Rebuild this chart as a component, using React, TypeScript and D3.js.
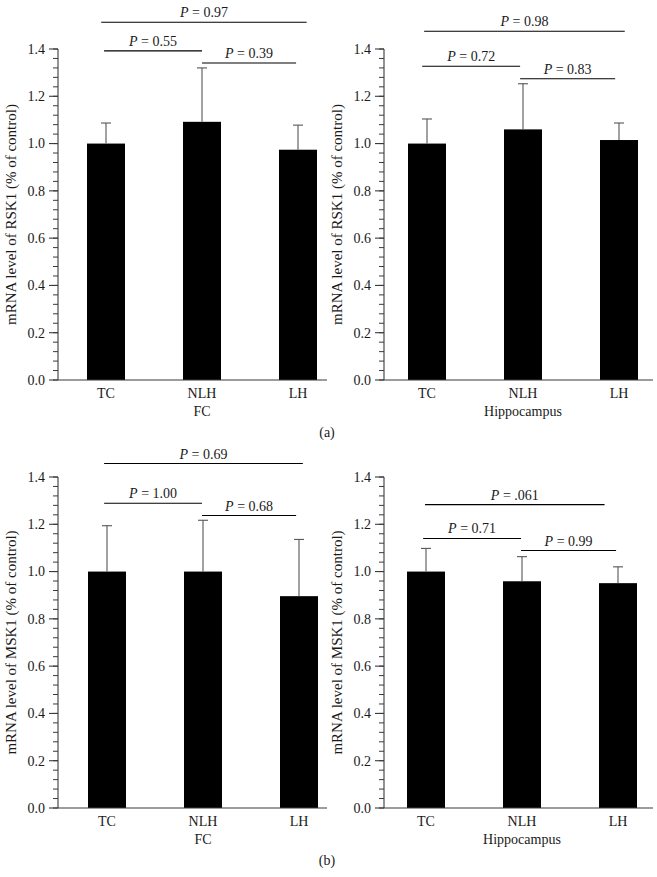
import * as d3 from 'd3';

const categories = ['TC', 'NLH', 'LH'];
const yTickValues = [0, 0.2, 0.4, 0.6, 0.8, 1.0, 1.2, 1.4];

// (a) RSK1
const rsk1FcMean = [1.0, 1.092, 0.974];
const rsk1FcSd = [0.087, 0.228, 0.104];
const rsk1HipMean = [1.0, 1.06, 1.015];
const rsk1HipSd = [0.104, 0.193, 0.072];

// (b) MSK1
const msk1FcMean = [1.0, 1.0, 0.896];
const msk1FcSd = [0.194, 0.217, 0.24];
const msk1HipMean = [1.0, 0.959, 0.951];
const msk1HipSd = [0.098, 0.104, 0.069];

// P value brackets: label, level (y units), span in category index units
const rsk1FcP = ['0.97', '0.55', '0.39'];
const rsk1FcPLevel = [1.513, 1.392, 1.341];
const rsk1FcPSpan = [[-0.05, 2.09], [-0.02, 1.0], [1.0, 1.98]];

const rsk1HipP = ['0.98', '0.72', '0.83'];
const rsk1HipPLevel = [1.475, 1.327, 1.274];
const rsk1HipPSpan = [[-0.03, 2.06], [-0.05, 0.97], [0.97, 1.96]];

const msk1FcP = ['0.69', '1.00', '0.68'];
const msk1FcPLevel = [1.457, 1.289, 1.237];
const msk1FcPSpan = [[-0.03, 2.04], [-0.03, 0.99], [0.99, 1.97]];

const msk1HipP = ['.061', '0.71', '0.99'];
const msk1HipPLevel = [1.283, 1.14, 1.089];
const msk1HipPSpan = [[-0.01, 1.86], [-0.03, 0.99], [0.99, 1.98]];

const FONT = "'Liberation Serif', 'DejaVu Serif', serif";

type PanelProps = {
  x0: number;
  firstCenter: number;
  yTop: number;
  yBottom: number;
  means: number[];
  sds: number[];
  pLabels: string[];
  pLevels: number[];
  pSpans: number[][];
  yLabel: string;
  group: string;
};

const Panel = ({ x0, firstCenter, yTop, yBottom, means, sds, pLabels, pLevels, pSpans, yLabel, group }: PanelProps) => {
  const step = 96;
  const barW = 38;
  const axisLen = 269;

  const y = d3.scaleLinear().domain([0, 1.4]).range([yBottom, yTop]);
  const xPt = d3.scalePoint<string>()
    .domain(categories)
    .range([x0 + firstCenter, x0 + firstCenter + 2 * step]);
  const xIdx = d3.scaleLinear().domain([0, 2]).range([x0 + firstCenter, x0 + firstCenter + 2 * step]);

  const minor = d3.range(0, 1.4 + 1e-9, 0.04);
  const axisColor = '#3a3a3a';

  return (
    <g style={{ fontFamily: FONT }} fill="#1a1a1a">
      {/* bars */}
      {categories.map((c, i) => (
        <rect key={c} x={(xPt(c) || 0) - barW / 2} y={y(means[i])}
          width={barW} height={y(0) - y(means[i])} fill="#000" />
      ))}
      {/* error bars */}
      {categories.map((c, i) => {
        const cx = xPt(c) || 0;
        return (
          <g key={'e' + c} stroke="#555" strokeWidth={1.1}>
            <line x1={cx} x2={cx} y1={y(means[i])} y2={y(means[i] + sds[i])} />
            <line x1={cx - 5} x2={cx + 5} y1={y(means[i] + sds[i])} y2={y(means[i] + sds[i])} />
          </g>
        );
      })}
      {/* y axis */}
      <line x1={x0} x2={x0} y1={y(0)} y2={y(1.4)} stroke={axisColor} strokeWidth={1.1} />
      {minor.map((v, i) => (
        <line key={'m' + i} x1={x0 - 5} x2={x0} y1={y(v)} y2={y(v)} stroke={axisColor} strokeWidth={1} />
      ))}
      {yTickValues.map(v => (
        <g key={'t' + v}>
          <line x1={x0 - 9} x2={x0} y1={y(v)} y2={y(v)} stroke={axisColor} strokeWidth={1.1} />
          <text x={x0 - 13} y={y(v)} dy="0.35em" textAnchor="end" fontSize={14}>{v.toFixed(1)}</text>
        </g>
      ))}
      {/* x axis */}
      <line x1={x0} x2={x0 + axisLen} y1={y(0)} y2={y(0)} stroke={axisColor} strokeWidth={1.1} />
      {categories.map(c => (
        <text key={'c' + c} x={xPt(c)} y={y(0) + 18} textAnchor="middle" fontSize={14}>{c}</text>
      ))}
      <text x={xPt('NLH')} y={y(0) + 36} textAnchor="middle" fontSize={14}>{group}</text>
      {/* y label */}
      <text transform={`translate(${x0 - 42},${(y(0) + y(1.4)) / 2}) rotate(-90)`}
        textAnchor="middle" fontSize={15}>{yLabel}</text>
      {/* P brackets */}
      {pLabels.map((p, i) => {
        const xa = xIdx(pSpans[i][0]);
        const xb = xIdx(pSpans[i][1]);
        const ly = y(pLevels[i]);
        return (
          <g key={'p' + i}>
            <line x1={xa} x2={xb} y1={ly} y2={ly} stroke="#000" strokeWidth={1.1} />
            <text x={(xa + xb) / 2} y={ly - 5} textAnchor="middle" fontSize={14}>
              <tspan fontStyle="italic">P</tspan>{' = ' + p}
            </text>
          </g>
        );
      })}
    </g>
  );
};

export default function App() {
  return (
    <svg width={657} height={877} style={{ position: 'absolute', left: 0, top: 0, background: '#fff' }}>
      <rect width={657} height={877} fill="#fff" />
      <Panel x0={58} firstCenter={48} yTop={49} yBottom={380}
        means={rsk1FcMean} sds={rsk1FcSd} pLabels={rsk1FcP} pLevels={rsk1FcPLevel} pSpans={rsk1FcPSpan}
        yLabel="mRNA level of RSK1 (% of control)" group="FC" />
      <Panel x0={384} firstCenter={43} yTop={49} yBottom={380}
        means={rsk1HipMean} sds={rsk1HipSd} pLabels={rsk1HipP} pLevels={rsk1HipPLevel} pSpans={rsk1HipPSpan}
        yLabel="mRNA level of RSK1 (% of control)" group="Hippocampus" />
      <text x={327} y={437} textAnchor="middle" fontSize={14} style={{ fontFamily: FONT }} fill="#1a1a1a">(a)</text>

      <Panel x0={58} firstCenter={49} yTop={477} yBottom={808}
        means={msk1FcMean} sds={msk1FcSd} pLabels={msk1FcP} pLevels={msk1FcPLevel} pSpans={msk1FcPSpan}
        yLabel="mRNA level of MSK1 (% of control)" group="FC" />
      <Panel x0={384} firstCenter={42} yTop={477} yBottom={808}
        means={msk1HipMean} sds={msk1HipSd} pLabels={msk1HipP} pLevels={msk1HipPLevel} pSpans={msk1HipPSpan}
        yLabel="mRNA level of MSK1 (% of control)" group="Hippocampus" />
      <text x={327} y={865} textAnchor="middle" fontSize={14} style={{ fontFamily: FONT }} fill="#1a1a1a">(b)</text>
    </svg>
  );
}
